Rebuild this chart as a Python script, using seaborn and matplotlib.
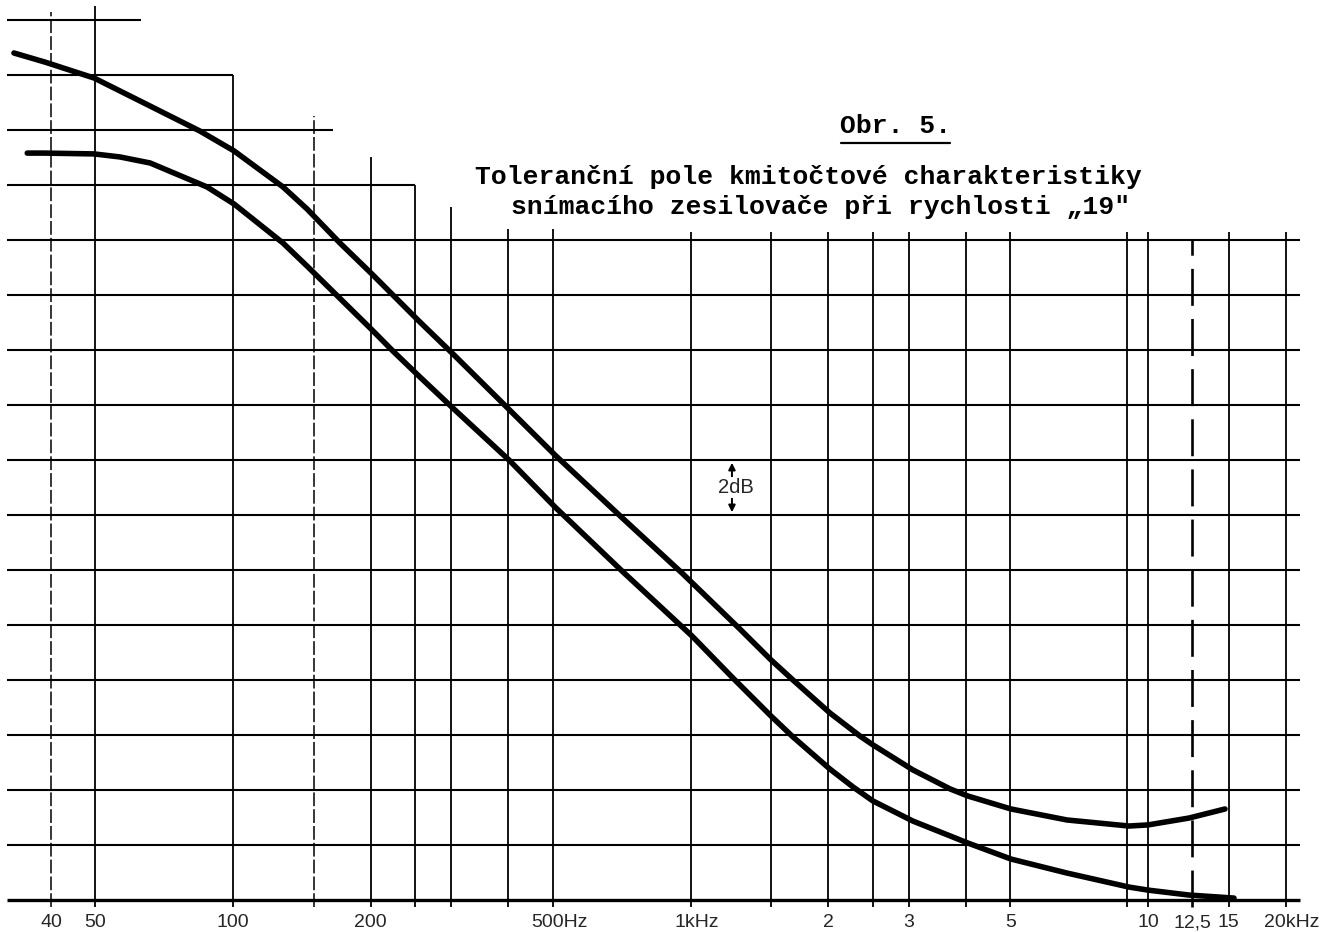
import numpy as np
import pandas as pd
import seaborn as sns
import matplotlib.pyplot as plt

# vertical grid lines (Hz) and the level (dB) each one reaches at the top
grid_freqs = [40, 50, 100, 150, 200, 250, 300, 400, 500, 1000, 1500, 2000,
              2500, 3000, 4000, 5000, 9000, 10000, 12500, 15000, 20000]
grid_tops = [32.3, 32.5, 30.0, 28.5, 27.0, 26.0, 25.2, 24.4, 24.4, 24.3, 24.3,
             24.3, 24.3, 24.3, 24.3, 24.3, 24.3, 24.3, 24.0, 24.3, 24.3]

# horizontal grid lines (dB) and the frequency where each one ends on the right
level_lines = [0, 2, 4, 6, 8, 10, 12, 14, 16, 18, 20, 22, 24, 26, 28, 30, 32]
level_ends = [21500] * 13 + [250, 165, 100, 63]

# frequency labels under the chart
tick_freqs = [40, 50, 100, 200, 500, 1000, 2000, 3000, 5000, 10000, 12500, 15000, 20000]
tick_nums = ['40', '50', '100', '200', '500', '1', '2', '3', '5', '10', '12,5', '15', '20']
tick_units = ['', '', '', '', 'Hz', 'kHz', '', '', '', '', '', '', 'kHz']

# upper limit of the tolerance field
upper_f = [33.2, 38.8, 49.7, 65.9, 84.7, 100.5, 128.6, 145.1, 171.3, 201.3, 255.0,
           304.1, 401.1, 505.6, 711.9, 958.1, 1282.8, 1499.6, 1674.9, 2017.6,
           2347.6, 2505.3, 3063.4, 3691.9, 4042, 5017, 6652, 9090, 10000, 12290, 14735]
upper_db = [30.80, 30.47, 29.89, 28.87, 27.96, 27.24, 25.93, 25.13, 23.89, 22.76,
            21.05, 19.82, 17.84, 16.18, 13.87, 11.89, 9.85, 8.73, 8.00, 6.80, 5.96,
            5.64, 4.73, 4.04, 3.78, 3.31, 2.91, 2.69, 2.73, 2.98, 3.31]

# lower limit of the tolerance field
lower_f = [35.5, 38.8, 49.7, 56.6, 65.9, 87.7, 100.5, 128.6, 145.8, 201.3, 223.7,
           255.0, 304.1, 401.1, 505.6, 711.9, 1007.6, 1238.4, 1499.6, 1674.9, 2017.6,
           2266.4, 2505.3, 3063.4, 4042, 5017, 6652, 9090, 10000, 12290, 15417]
lower_db = [27.16, 27.16, 27.13, 27.02, 26.80, 25.93, 25.31, 23.89, 23.02, 20.73,
            19.96, 19.05, 17.85, 16.00, 14.29, 11.93, 9.60, 8.07, 6.69, 5.93, 4.76,
            4.11, 3.60, 2.87, 2.07, 1.49, 0.98, 0.47, 0.36, 0.18, 0.07]

sns.set_style('white')

fig = plt.figure(figsize=(13.23, 9.32), dpi=100)
ax = fig.add_axes([0, 0, 1, 1])
ax.set_xscale('log')
ax.set_xlim(30.95, 24130)
ax.set_ylim(-1.1636, 32.727)
ax.axis('off')

# horizontal grid
for lev, fend in zip(level_lines, level_ends):
    lw = 2.4 if lev == 0 else 1.5
    ax.hlines(lev, 32.1, fend, color='black', lw=lw, zorder=1)

# vertical grid
for f, top in zip(grid_freqs, grid_tops):
    if f == 12500:
        ax.vlines(f, -0.25, top, color='black', lw=1.9, linestyles=(0, (14, 5)), zorder=1)
    elif f in (40, 150):
        ax.vlines(f, -0.25, top, color='black', lw=1.1, linestyles=(0, (9, 2)), zorder=1)
    else:
        ax.vlines(f, -0.25, top, color='black', lw=1.3, zorder=1)

# the two limit curves
df_up = pd.DataFrame({'f': upper_f, 'dB': upper_db})
df_lo = pd.DataFrame({'f': lower_f, 'dB': lower_db})
for d in (df_up, df_lo):
    sns.lineplot(data=d, x='f', y='dB', ax=ax, color='black', lw=4.0,
                 estimator=None, sort=False, solid_capstyle='round',
                 solid_joinstyle='round', zorder=3)

# frequency labels
for f, num, unit in zip(tick_freqs, tick_nums, tick_units):
    dx = 4.5 if unit else 0
    ax.annotate(num + unit, xy=(f, 0), xytext=(dx, -19.5), textcoords='offset points',
                ha='center', va='baseline', fontsize=14, family='Liberation Sans')

# 2 dB scale marker
ax.annotate('', xy=(1232, 16.0), xytext=(1232, 15.2),
            arrowprops=dict(arrowstyle='-|>', color='black', lw=1.4, mutation_scale=10))
ax.annotate('', xy=(1232, 14.0), xytext=(1232, 14.8),
            arrowprops=dict(arrowstyle='-|>', color='black', lw=1.4, mutation_scale=10))
ax.text(1257, 15.0, '2dB', ha='center', va='center', fontsize=14.5,
        family='Liberation Sans', bbox=dict(fc='white', ec='none', pad=0.5))

# caption
mono = dict(family='Liberation Mono', weight='bold', fontsize=19, color='black')
ax.text(0.677, 0.857, 'Obr. 5.', transform=ax.transAxes, ha='center', va='baseline', **mono)
ax.plot([0.636, 0.718], [0.8465, 0.8465], transform=ax.transAxes, color='black', lw=1.6)
ax.text(0.611, 0.803, 'Toleranční pole kmitočtové charakteristiky',
        transform=ax.transAxes, ha='center', va='baseline', **mono)
ax.text(0.620, 0.7705, 'snímacího zesilovače při rychlosti „19"',
        transform=ax.transAxes, ha='center', va='baseline', **mono)

plt.savefig('out.png', dpi=100)
plt.close()
